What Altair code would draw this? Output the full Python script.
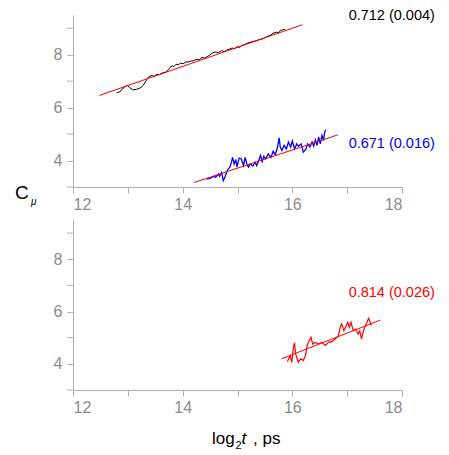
import altair as alt
import pandas as pd

# ---- data ----
black_x = [12.80, 12.85, 12.89, 12.95, 12.99, 13.03, 13.09, 13.16, 13.24, 13.28, 13.33, 13.37,
           13.42, 13.45, 13.48, 13.53, 13.57, 13.62, 13.66, 13.70, 13.74, 13.77, 13.81, 13.84,
           13.88, 13.92, 13.96, 14.01, 14.06, 14.10, 14.15, 14.20, 14.26, 14.30, 14.35, 14.40,
           14.44, 14.49, 14.53, 14.59, 14.65, 14.71, 14.76, 14.80, 14.85, 14.90, 14.95, 14.99,
           15.04, 15.08, 15.13, 15.17, 15.23, 15.29, 15.35, 15.41, 15.47, 15.53, 15.59, 15.65,
           15.71, 15.75, 15.78, 15.82, 15.87]
black_y = [6.57, 6.59, 6.69, 6.79, 6.84, 6.76, 6.67, 6.69, 6.76, 6.84, 7.01, 7.14,
           7.20, 7.22, 7.18, 7.26, 7.24, 7.30, 7.32, 7.35, 7.43, 7.52, 7.58, 7.55,
           7.64, 7.62, 7.68, 7.66, 7.73, 7.72, 7.76, 7.77, 7.83, 7.80, 7.90, 7.87,
           7.92, 7.98, 8.05, 8.10, 8.08, 8.15, 8.12, 8.17, 8.21, 8.25, 8.23, 8.30,
           8.28, 8.35, 8.38, 8.43, 8.47, 8.50, 8.53, 8.58, 8.61, 8.68, 8.72, 8.81,
           8.85, 8.82, 8.91, 8.94, 8.96]

blue_x = [14.44, 14.50, 14.56, 14.60, 14.65, 14.67, 14.71, 14.74, 14.77, 14.80, 14.83, 14.86,
          14.89, 14.91, 14.94, 14.97, 14.99, 15.03, 15.07, 15.11, 15.14, 15.17, 15.20, 15.23,
          15.28, 15.32, 15.35, 15.38, 15.42, 15.45, 15.48, 15.51, 15.56, 15.61, 15.65, 15.69,
          15.73, 15.76, 15.78, 15.81, 15.85, 15.89, 15.93, 15.97, 16.00, 16.04, 16.08, 16.11,
          16.16, 16.20, 16.25, 16.28, 16.32, 16.36, 16.39, 16.42, 16.45, 16.48, 16.51, 16.54,
          16.57, 16.59, 16.61]
blue_y = [3.30, 3.33, 3.40, 3.37, 3.49, 3.40, 3.55, 3.24, 3.37, 3.55, 3.68, 3.75,
          3.94, 4.12, 3.87, 4.04, 3.75, 4.09, 4.06, 3.81, 4.12, 3.87, 3.75, 3.87,
          3.79, 3.94, 3.81, 3.96, 4.19, 3.96, 4.16, 4.06, 4.25, 4.12, 4.35, 4.22,
          4.51, 4.86, 4.51, 4.38, 4.57, 4.44, 4.70, 4.51, 4.74, 4.44, 4.63, 4.54,
          4.63, 4.32, 4.44, 4.63, 4.51, 4.70, 4.54, 4.78, 4.57, 4.89, 4.63, 4.95,
          4.76, 5.07, 5.16]

red_x = [15.91, 15.96, 15.99, 16.02, 16.04, 16.06, 16.11, 16.15, 16.20, 16.24, 16.27, 16.31,
         16.34, 16.37, 16.41, 16.48, 16.54, 16.60, 16.66, 16.72, 16.78, 16.84, 16.88, 16.90,
         16.94, 16.97, 17.01, 17.04, 17.07, 17.11, 17.16, 17.20, 17.23, 17.26, 17.29, 17.32,
         17.36, 17.39, 17.42, 17.44]
red_y = [4.09, 4.32, 4.06, 4.63, 4.80, 4.38, 4.06, 4.19, 4.13, 4.32, 4.70, 4.89,
         5.02, 4.76, 4.82, 4.76, 4.82, 4.70, 4.82, 4.85, 4.95, 5.08, 5.46, 5.53,
         5.27, 5.40, 5.59, 5.40, 5.59, 5.27, 5.33, 5.14, 5.27, 4.95, 5.21, 5.40,
         5.59, 5.74, 5.59, 5.46]

fit_black_x = [12.48, 16.18]
fit_black_y = [6.46, 9.13]
fit_blue_x = [14.21, 16.83]
fit_blue_y = [3.17, 4.97]
fit_red_x = [15.80, 17.60]
fit_red_y = [4.19, 5.67]

labels_top = ["0.712 (0.004)", "0.671 (0.016)"]
labels_top_y = [9.46, 4.63]
labels_top_color = ["black", "blue"]
label_bot = "0.814 (0.026)"
label_bot_y = 6.72
label_x = 18.6

FONT = "Liberation Sans"
AXIS_GRAY = "#b0b0b0"
xticks = [12, 13, 14, 15, 16, 17, 18]
ylabels = [4, 6, 8]
yminor = [3, 5, 7, 9]

xscale = alt.Scale(domain=[12, 18], nice=False, zero=False)
yscale = alt.Scale(domain=[3, 9.5], nice=False, zero=False)
xaxis = alt.Axis(values=xticks, format="d",
                 labelExpr="datum.value % 2 == 0 ? datum.label : ''",
                 title=None, grid=False, tickSize=6, labelPadding=3, labelOverlap=False)
yaxis = alt.Axis(values=ylabels, format="d", title=None, grid=False, tickSize=6,
                 labelPadding=5, labelOverlap=False)


def line(xs, ys, color, width=1.0):
    df = pd.DataFrame({"x": xs, "y": ys, "i": range(len(xs))})
    return alt.Chart(df).mark_line(color=color, strokeWidth=width).encode(
        x=alt.X("x:Q", scale=xscale, axis=xaxis),
        y=alt.Y("y:Q", scale=yscale, axis=yaxis),
        order="i:O",
    )


def minor_ticks():
    df = pd.DataFrame({"y": yminor})
    return alt.Chart(df).mark_rule(color=AXIS_GRAY, strokeWidth=1).encode(
        y=alt.Y("y:Q", scale=yscale), x=alt.value(-6), x2=alt.value(0))


def fixed_text(s, x, y, size, style="normal", color="black"):
    return alt.Chart(pd.DataFrame({"t": [s]})).mark_text(
        font=FONT, fontSize=size, fontStyle=style, align="left", baseline="alphabetic",
        color=color).encode(x=alt.value(x), y=alt.value(y), text="t:N")


top_lab = pd.DataFrame({"x": [label_x] * 2, "y": labels_top_y, "t": labels_top, "c": labels_top_color})
top_text = alt.Chart(top_lab).mark_text(font=FONT, fontSize=14.5, align="right", baseline="middle").encode(
    x=alt.X("x:Q", scale=xscale), y=alt.Y("y:Q", scale=yscale), text="t:N",
    color=alt.Color("c:N", scale=None))

top = alt.layer(
    line(black_x, black_y, "black", 1.0),
    minor_ticks(),
    line(fit_black_x, fit_black_y, "red", 1.0),
    line(blue_x, blue_y, "blue", 1.3),
    line(fit_blue_x, fit_blue_y, "red", 1.0),
    top_text,
    fixed_text("C", -58, 184, 19),
    fixed_text("μ", -42, 190, 10, "italic"),
).properties(width=329, height=172)

bot_lab = pd.DataFrame({"x": [label_x], "y": [label_bot_y], "t": [label_bot]})
bot_text = alt.Chart(bot_lab).mark_text(font=FONT, fontSize=14.5, align="right", baseline="middle",
                                        color="red").encode(
    x=alt.X("x:Q", scale=xscale), y=alt.Y("y:Q", scale=yscale), text="t:N")

bottom = alt.layer(
    line(red_x, red_y, "red", 1.2),
    minor_ticks(),
    line(fit_red_x, fit_red_y, "red", 1.0),
    bot_text,
    fixed_text("log", 139, 224, 17),
    fixed_text("2", 162.5, 229, 11),
    fixed_text("t", 168.5, 224, 17, "italic"),
    fixed_text(", ps", 180, 224, 17),
).properties(width=329, height=170)

chart = alt.vconcat(top, bottom, spacing=33, bounds="flush").properties(
    padding={"left": 7, "top": 0, "right": 5, "bottom": 5}
).configure_view(strokeWidth=0).configure_axis(
    domainColor=AXIS_GRAY, tickColor=AXIS_GRAY, labelColor="#8c8c8c",
    labelFont=FONT, labelFontSize=16, domainWidth=1, tickWidth=1,
)

chart.save("out.html", embed_options={"renderer": "svg", "actions": False})
